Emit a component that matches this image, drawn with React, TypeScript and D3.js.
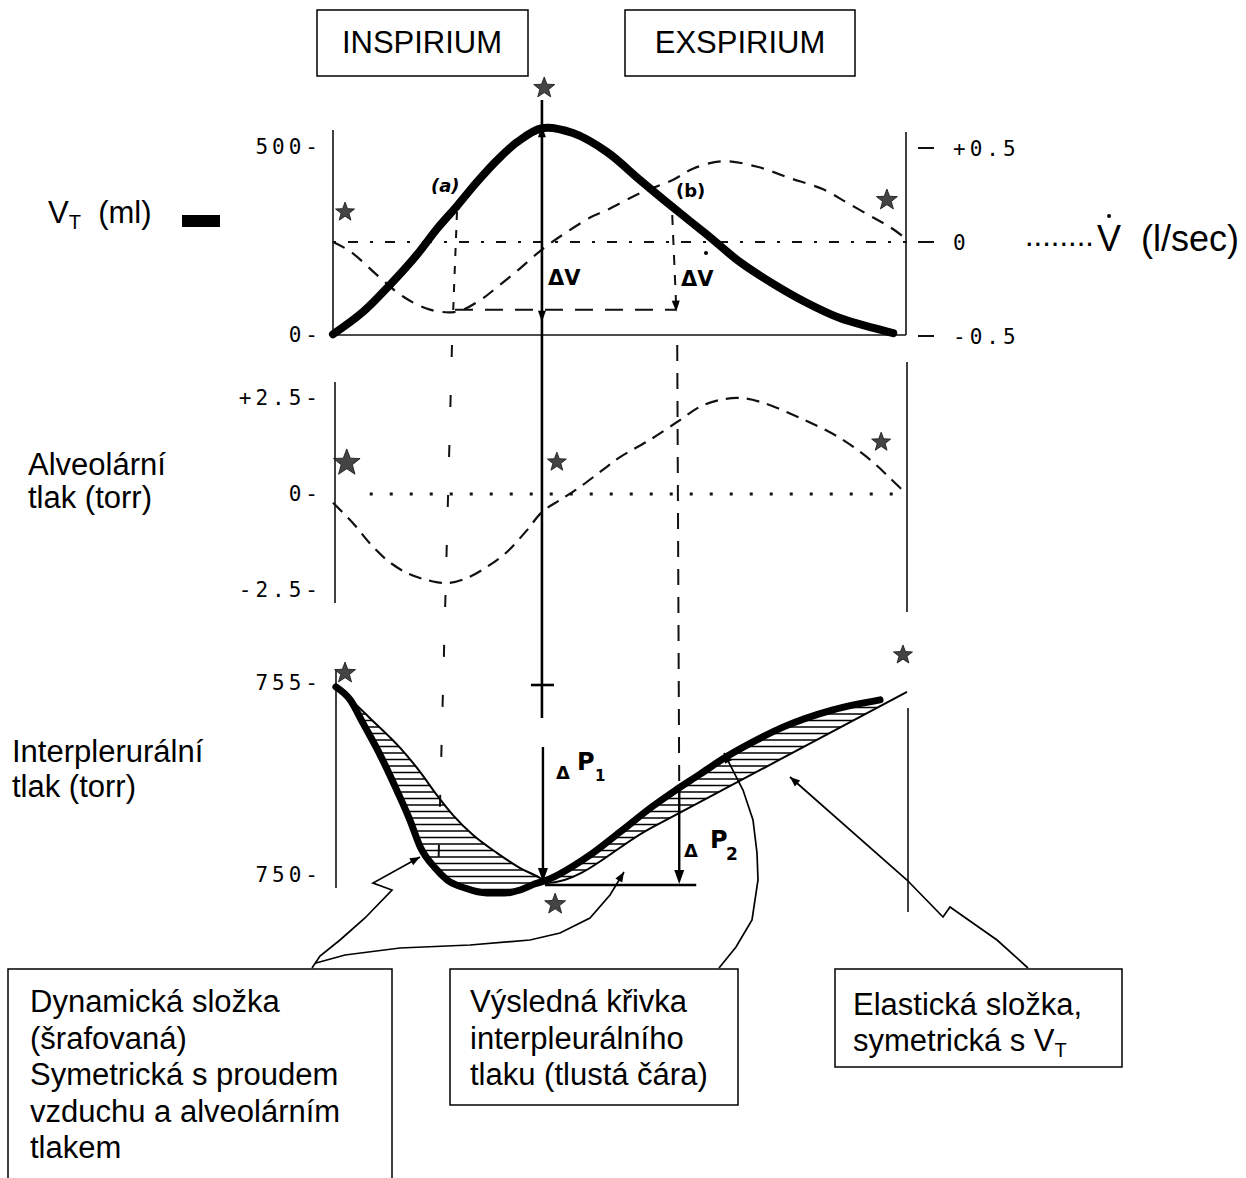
import React from 'react';
import * as d3 from 'd3';

// ---------- data (time in % of breath cycle) ----------
const timeDomain = [0, 100];

const volumeTicks = [0, 500];
const volumeTickLabels = ['0-', '500-'];
const flowTicks = [-0.5, 0, 0.5];
const flowTickLabels = ['-0.5', '0', '+0.5'];
const alveolarTicks = [-2.5, 0, 2.5];
const alveolarTickLabels = ['-2.5-', '0-', '+2.5-'];
const pleuralTicks = [750, 755];
const pleuralTickLabels = ['750-', '755-'];

// tidal volume (ml)
const volumeCurve: [number, number][] = [
  [0, 2], [5.2, 61], [9.9, 133], [14.6, 213], [18.1, 282], [21.6, 343], [25.1, 407],
  [28.6, 465], [32.1, 513], [36.4, 550], [41.8, 537], [47.7, 487], [53.5, 412],
  [58.7, 346], [65.2, 266], [70.9, 194], [76.7, 136], [82.6, 85], [88.3, 45],
  [94.1, 19], [97.6, 5],
];

// air flow (l/sec)
const flowCurve: [number, number][] = [
  [0, 0], [3.0, -0.05], [8.2, -0.19], [12.2, -0.29], [16.9, -0.36], [21.6, -0.37],
  [25.6, -0.31], [28.6, -0.24], [32.6, -0.14], [36.4, -0.04], [40.1, 0.04],
  [44.8, 0.13], [47.7, 0.17], [53.5, 0.26], [59.2, 0.33], [62.7, 0.39], [67.9, 0.43],
  [73.9, 0.4], [79.6, 0.34], [85.4, 0.28], [89.5, 0.21], [94.1, 0.13], [97.0, 0.08],
  [99.3, 0.03],
];

// alveolar pressure (torr)
const alveolarCurve: [number, number][] = [
  [0, -0.23], [3.5, -0.76], [6.4, -1.28], [9.4, -1.72], [12.9, -2.06], [16.4, -2.24],
  [19.9, -2.32], [23.3, -2.19], [26.8, -1.9], [30.3, -1.51], [33.8, -0.94],
  [36.4, -0.47], [39.5, -0.16], [43.0, 0.18], [47.0, 0.63], [50.0, 0.96], [55.2, 1.41],
  [60.5, 1.93], [63.9, 2.27], [67.4, 2.45], [70.9, 2.5], [74.4, 2.4], [81.4, 1.98],
  [88.3, 1.46], [93.6, 0.89], [97.0, 0.42], [99.7, 0.03],
];

// resulting interpleural pressure (torr) - thick curve
const pleuralCurve: [number, number][] = [
  [0.5, 754.9], [3.0, 754.56], [5.2, 753.96], [8.2, 753.13], [11.1, 752.21],
  [13.4, 751.43], [15.2, 750.73], [17.8, 750.18], [19.9, 749.87], [23.0, 749.66],
  [26.8, 749.53], [30.0, 749.53], [32.6, 749.61], [35.2, 749.77], [37.3, 749.87],
  [44.3, 750.47], [50.0, 751.12], [55.7, 751.79], [59.6, 752.2], [63.9, 752.62],
  [67.9, 753.02], [72.6, 753.42], [78.4, 753.85], [87.1, 754.3], [95.3, 754.56],
];

// boundary of the dynamic (hatched) component / elastic component
const elasticCurve: [number, number][] = [
  [0.7, 754.9], [6.4, 754.09], [11.7, 753.31], [15.2, 752.68], [18.1, 752.08],
  [20.9, 751.56], [24.4, 751.04], [28.6, 750.57], [32.6, 750.18], [36.6, 749.87],
  [37.3, 749.79], [55.2, 751.21], [77.9, 753.01], [100, 754.77],
];

// star markers: [time, value, panel, size]
const starMarks: [number, number, string, number][] = [
  [2.1, 327, 'vol', 10], [36.8, 657, 'vol', 11], [96.5, 359, 'vol', 11],
  [2.4, 0.81, 'alv', 14], [39.0, 0.83, 'alv', 10], [95.5, 1.35, 'alv', 10],
  [2.1, 755.26, 'pl', 11], [99.3, 755.73, 'pl', 10], [38.7, 749.24, 'pl', 11],
];

// characteristic instants
const tA = 21.6;      // (a) max inspiratory flow
const tPeak = 36.4;   // end of inspiration
const tB = 59.1;      // (b)
const flowRef = -0.36;
const pleuralRef = 749.74;

const FONT = '"Liberation Sans", Arial, sans-serif';
const MONO = '"DejaVu Sans Mono", "Liberation Mono", monospace';
const HAND = '"DejaVu Sans", sans-serif';

function starPath(cx: number, cy: number, r: number) {
  const pts: string[] = [];
  for (let i = 0; i < 10; i++) {
    const a = -Math.PI / 2 + (i * Math.PI) / 5;
    const rr = i % 2 === 0 ? r : r * 0.42;
    pts.push(`${cx + rr * Math.cos(a)},${cy + rr * Math.sin(a)}`);
  }
  return 'M' + pts.join('L') + 'Z';
}

function arrowHead(tipX: number, tipY: number, fromX: number, fromY: number, len = 11, w = 4) {
  const dx = tipX - fromX, dy = tipY - fromY;
  const L = Math.hypot(dx, dy) || 1;
  const ux = dx / L, uy = dy / L;
  const bx = tipX - ux * len, by = tipY - uy * len;
  const px = -uy * w, py = ux * w;
  return `M${tipX},${tipY}L${bx + px},${by + py}L${bx - px},${by - py}Z`;
}

export default function App() {
  const x = d3.scaleLinear().domain(timeDomain).range([333, 907]);
  const yVol = d3.scaleLinear().domain([0, 500]).range([335, 147]);
  const yFlow = d3.scaleLinear().domain([-0.5, 0.5]).range([336, 148]);
  const yAlv = d3.scaleLinear().domain([-2.5, 2.5]).range([590, 398]);
  const yPl = d3.scaleLinear().domain([750, 755]).range([875, 683]);

  const mk = (ys: d3.ScaleLinear<number, number>) =>
    d3.line<[number, number]>().x(d => x(d[0])).y(d => ys(d[1])).curve(d3.curveCatmullRom.alpha(0.5));
  const mkM = (ys: d3.ScaleLinear<number, number>) =>
    d3.line<[number, number]>().x(d => x(d[0])).y(d => ys(d[1])).curve(d3.curveMonotoneX);

  const volPath = mk(yVol)(volumeCurve) || '';
  const flowPath = mk(yFlow)(flowCurve) || '';
  const alvPath = mk(yAlv)(alveolarCurve) || '';
  const plPath = mkM(yPl)(pleuralCurve) || '';
  const elPath = mkM(yPl)(elasticCurve) || '';

  // areas "below" each curve, used to hatch the region between them
  const belowPl = plPath + 'L' + x(95.3) + ',940L' + x(0.5) + ',940Z';
  const belowEl = elPath + 'L' + x(100) + ',940L' + x(0.7) + ',940Z';

  const scaleFor: Record<string, d3.ScaleLinear<number, number>> = { vol: yVol, alv: yAlv, pl: yPl };

  const xc = x(tPeak);
  const xa = x(tA);
  const xb = x(tB);

  const hatchYs = d3.range(688, 900, 6.5);
  const hx1 = x(1.6);
  const hx2 = x(95);

  const leaders: [number, number][][] = [
    [[312, 968], [320, 956], [340, 940], [365, 918], [392, 890], [373, 883], [420, 857]],
    [[316, 963], [345, 955], [400, 948], [470, 945], [530, 940], [560, 933], [590, 918], [610, 895], [624, 872]],
    [[719, 968], [736, 947], [752, 920], [758, 880], [757, 853], [753, 820], [743, 790], [724, 753]],
    [[1028, 968], [997, 940], [950, 907], [943, 917], [907, 880], [790, 777]],
  ];
  const leaderLine = d3.line<[number, number]>().curve(d3.curveLinear);

  const axisStroke = { stroke: '#111', strokeWidth: 1.6, fill: 'none' } as const;

  const hatchLines = (key: string) =>
    hatchYs.map((yy, i) => (
      <line key={key + i} x1={hx1} x2={hx2} y1={yy} y2={yy} stroke="#000" strokeWidth={1.3} />
    ));

  return (
    <svg width={1246} height={1178} style={{ position: 'absolute', left: 0, top: 0, background: '#fff' }}
      xmlns="http://www.w3.org/2000/svg">
      <defs>
        <clipPath id="below-pl"><path d={belowPl} /></clipPath>
        <clipPath id="below-el"><path d={belowEl} /></clipPath>
        <mask id="not-below-el">
          <rect x={0} y={0} width={1246} height={1178} fill="white" />
          <path d={belowEl} fill="black" />
        </mask>
        <mask id="not-below-pl">
          <rect x={0} y={0} width={1246} height={1178} fill="white" />
          <path d={belowPl} fill="black" />
        </mask>
      </defs>
      <rect x={0} y={0} width={1246} height={1178} fill="#fff" />

      {/* phase boxes */}
      <rect x={317} y={10} width={211} height={66} fill="none" stroke="#000" strokeWidth={1.5} />
      <text x={422} y={53} textAnchor="middle" fontFamily={FONT} fontSize={31}>INSPIRIUM</text>
      <rect x={625} y={10} width={230} height={66} fill="none" stroke="#000" strokeWidth={1.5} />
      <text x={740} y={53} textAnchor="middle" fontFamily={FONT} fontSize={31}>EXSPIRIUM</text>

      {/* ---------- top panel frame ---------- */}
      <line x1={333} y1={130} x2={333} y2={335} {...axisStroke} />
      <line x1={906} y1={132} x2={906} y2={335} {...axisStroke} />
      <line x1={333} y1={335} x2={906} y2={335} {...axisStroke} />
      {volumeTicks.map((v, i) => (
        <text key={'vt' + i} x={322} y={yVol(v) + 7} textAnchor="end" fontFamily={MONO} fontSize={21}
          letterSpacing={4}>{volumeTickLabels[i]}</text>
      ))}
      {flowTicks.map((v, i) => (
        <g key={'ft' + i}>
          <line x1={918} x2={934} y1={yFlow(v)} y2={yFlow(v)} stroke="#111" strokeWidth={2} />
          <text x={953} y={yFlow(v) + 8} fontFamily={MONO} fontSize={21} letterSpacing={4}>{flowTickLabels[i]}</text>
        </g>
      ))}
      {/* zero flow line */}
      <line x1={x(0)} x2={x(100)} y1={yFlow(0)} y2={yFlow(0)} stroke="#111" strokeWidth={2}
        strokeDasharray="3 12 10 12" />

      {/* labels */}
      <text x={48} y={223} fontFamily={FONT} fontSize={31}>V<tspan fontSize={20} dy={6}>T</tspan>
        <tspan dy={-6}>{'\u00a0\u00a0(ml)'}</tspan></text>
      <rect x={182} y={215} width={38} height={12} fill="#000" />
      <text x={1025} y={246} fontFamily={FONT} fontSize={31}>........</text>
      <text x={1097} y={251} fontFamily={FONT} fontSize={36}>V{'\u00a0\u00a0'}(l/sec)</text>
      <circle cx={1109} cy={216} r={2} fill="#000" />

      {/* flow (dashed) */}
      <path d={flowPath} fill="none" stroke="#111" strokeWidth={2.2} strokeDasharray="13 9" />
      {/* volume (thick) */}
      <path d={volPath} fill="none" stroke="#000" strokeWidth={8} strokeLinecap="round" />

      {/* reference dashed lines */}
      <line x1={xa - 2} y1={yFlow(flowRef)} x2={xb + 4} y2={yFlow(flowRef)} stroke="#111" strokeWidth={2}
        strokeDasharray="18 12" />
      <line x1={xa} y1={212} x2={xa - 4} y2={yFlow(flowRef) + 6} stroke="#111" strokeWidth={2} strokeDasharray="8 10" />
      <line x1={xa - 5} y1={345} x2={x(18.3)} y2={880} stroke="#111" strokeWidth={2} strokeDasharray="12 38" />
      <line x1={xb} y1={215} x2={xb + 4} y2={yFlow(flowRef) - 2} stroke="#111" strokeWidth={2} strokeDasharray="10 10" />
      <path d={arrowHead(xb + 4, yFlow(flowRef) + 2, xb + 3, yFlow(flowRef) - 20)} fill="#000" />
      <line x1={xb + 5} y1={345} x2={xb + 7} y2={790} stroke="#111" strokeWidth={2} strokeDasharray="16 12" />

      {/* center line and ΔV arrows */}
      <line x1={xc} y1={100} x2={xc} y2={718} stroke="#000" strokeWidth={2.6} />
      <path d={arrowHead(xc, yVol(550) - 2, xc, yVol(550) + 30)} fill="#000" />
      <path d={arrowHead(xc, yFlow(flowRef) + 12, xc, yFlow(flowRef) - 20)} fill="#000" />
      <line x1={xc - 11} x2={xc + 12} y1={yPl(755) + 2} y2={yPl(755) + 2} stroke="#000" strokeWidth={2.6} />
      <line x1={xc + 1} y1={747} x2={xc + 1} y2={876} stroke="#000" strokeWidth={2.4} />
      <path d={arrowHead(xc + 1, 882, xc + 1, 850, 14, 5)} fill="#000" />

      {/* hand annotations */}
      <text x={431} y={192} fontFamily={HAND} fontSize={18} fontWeight="bold" fontStyle="italic">(a)</text>
      <text x={676} y={197} fontFamily={HAND} fontSize={18} fontWeight="bold">(b)</text>
      <text x={548} y={285} fontFamily={HAND} fontSize={21} fontWeight="bold">ΔV</text>
      <text x={681} y={286} fontFamily={HAND} fontSize={21} fontWeight="bold">ΔV</text>
      <circle cx={706} cy={253} r={2} fill="#000" />

      {/* ---------- middle panel ---------- */}
      <line x1={335} y1={382} x2={335} y2={603} {...axisStroke} />
      <line x1={907} y1={362} x2={907} y2={612} {...axisStroke} />
      {alveolarTicks.map((v, i) => (
        <text key={'at' + i} x={322} y={yAlv(v) + 7} textAnchor="end" fontFamily={MONO} fontSize={21}
          letterSpacing={4}>{alveolarTickLabels[i]}</text>
      ))}
      <line x1={x(6.4)} x2={x(99.7)} y1={yAlv(0)} y2={yAlv(0)} stroke="#111" strokeWidth={3}
        strokeDasharray="3 17" />
      <path d={alvPath} fill="none" stroke="#111" strokeWidth={2.2} strokeDasharray="13 8" />
      <text x={28} y={475} fontFamily={FONT} fontSize={31}>Alveolární</text>
      <text x={28} y={508} fontFamily={FONT} fontSize={31}>tlak (torr)</text>

      {/* ---------- bottom panel ---------- */}
      <line x1={336} y1={670} x2={336} y2={888} {...axisStroke} />
      <line x1={908} y1={708} x2={908} y2={912} {...axisStroke} />
      {pleuralTicks.map((v, i) => (
        <text key={'pt' + i} x={322} y={yPl(v) + 7} textAnchor="end" fontFamily={MONO} fontSize={21}
          letterSpacing={4}>{pleuralTickLabels[i]}</text>
      ))}
      <text x={12} y={762} fontFamily={FONT} fontSize={31}>Interplerurální</text>
      <text x={12} y={797} fontFamily={FONT} fontSize={31}>tlak (torr)</text>

      {/* hatching between thick and thin curves */}
      <g clipPath="url(#below-pl)"><g mask="url(#not-below-el)">{hatchLines('ha')}</g></g>
      <g clipPath="url(#below-el)"><g mask="url(#not-below-pl)">{hatchLines('hb')}</g></g>
      <path d={elPath} fill="none" stroke="#000" strokeWidth={2} />
      <path d={plPath} fill="none" stroke="#000" strokeWidth={7} strokeLinecap="round" />

      {/* ΔP2 */}
      <line x1={xc + 3} x2={xb + 24} y1={yPl(pleuralRef)} y2={yPl(pleuralRef)} stroke="#000" strokeWidth={2.4} />
      <line x1={xb + 7} y1={790} x2={xb + 7} y2={875} stroke="#000" strokeWidth={2.4} />
      <path d={arrowHead(xb + 7, yPl(pleuralRef) - 1, xb + 7, 850, 14, 5)} fill="#000" />

      <text x={556} y={779} fontFamily={HAND} fontSize={18} fontWeight="bold">Δ</text>
      <text x={577} y={770} fontFamily={HAND} fontSize={24} fontWeight="bold">P</text>
      <text x={595} y={781} fontFamily={HAND} fontSize={15} fontWeight="bold">1</text>
      <text x={684} y={857} fontFamily={HAND} fontSize={18} fontWeight="bold">Δ</text>
      <text x={710} y={848} fontFamily={HAND} fontSize={24} fontWeight="bold">P</text>
      <text x={726} y={860} fontFamily={HAND} fontSize={17} fontWeight="bold">2</text>

      {/* stars */}
      {starMarks.map((s, i) => (
        <path key={'s' + i} d={starPath(x(s[0]), scaleFor[s[2]](s[1]), s[3])} fill="#444" stroke="#111"
          strokeWidth={0.8} />
      ))}

      {/* leader lines */}
      {leaders.map((pts, i) => {
        const n = pts.length;
        return (
          <g key={'l' + i}>
            <path d={leaderLine(pts) || ''} fill="none" stroke="#000" strokeWidth={1.7} />
            <path d={arrowHead(pts[n - 1][0], pts[n - 1][1], pts[n - 2][0], pts[n - 2][1], 10, 4)} fill="#000" />
          </g>
        );
      })}

      {/* ---------- explanation boxes ---------- */}
      <path d="M8,1178 L8,969 L392,969 L392,1178" fill="none" stroke="#000" strokeWidth={1.5} />
      {['Dynamická složka', '(šrafovaná)', 'Symetrická s proudem', 'vzduchu a alveolárním', 'tlakem'].map((t, i) => (
        <text key={'b1' + i} x={30} y={1012 + i * 36.5} fontFamily={FONT} fontSize={31}>{t}</text>
      ))}
      <rect x={450} y={969} width={288} height={136} fill="none" stroke="#000" strokeWidth={1.5} />
      {['Výsledná křivka', 'interpleurálního', 'tlaku (tlustá čára)'].map((t, i) => (
        <text key={'b2' + i} x={470} y={1012 + i * 36.5} fontFamily={FONT} fontSize={31}>{t}</text>
      ))}
      <rect x={835} y={969} width={287} height={98} fill="none" stroke="#000" strokeWidth={1.5} />
      <text x={853} y={1015} fontFamily={FONT} fontSize={31}>Elastická složka,</text>
      <text x={853} y={1051} fontFamily={FONT} fontSize={31}>symetrická s V<tspan fontSize={20} dy={6}>T</tspan></text>
    </svg>
  );
}
